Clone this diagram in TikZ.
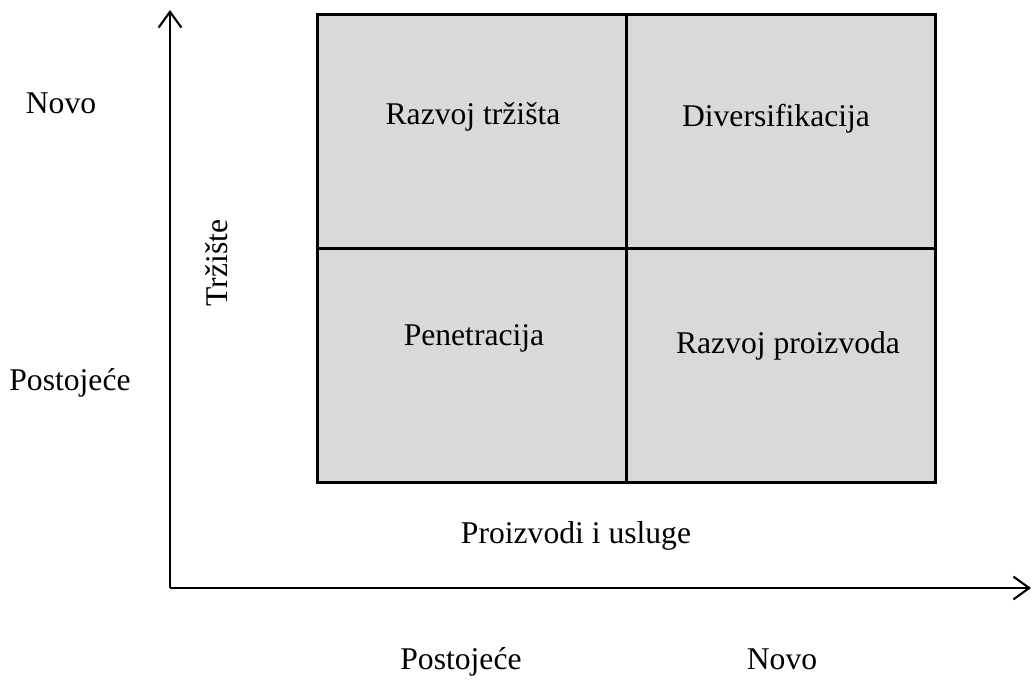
\documentclass[tikz,border=0pt]{standalone}
\usepackage{fontspec}
\setmainfont{Liberation Serif}
\usetikzlibrary{arrows.meta}

\begin{document}
\begin{tikzpicture}[x=0.02cm, y=-0.02cm,
    font=\fontsize{18}{22}\selectfont,
    quad/.style={draw, line width=1.2pt, fill=black!15, minimum width=6.18cm, minimum height=4.68cm, inner sep=0pt},
    lbl/.style={inner sep=0pt, anchor=base}]
                \useasboundingbox (0,0) rectangle (1032,681);
                % matrica
                \node[quad] (TL) at (472,131.5) {};
                \node[quad] (TR) at (781,131.5) {};
                \node[quad] (BL) at (472,365.5) {};
                \node[quad] (BR) at (781,365.5) {};
                \node[lbl] (rt) at (473,124) {Razvoj tržišta};
                \node[lbl] (dv) at (776,126) {Diversifikacija};
                \node[lbl] (pn) at (474,345) {Penetracija};
                \node[lbl] (rp) at (788,353) {Razvoj proizvoda};
                % osi
                \coordinate (O) at (170,588);
                \coordinate (ytop) at (170,10);
                \coordinate (xend) at (1031,588);
                \draw [line width=1.2pt, -{Straight Barb[length=9pt, width=13pt]}] (O) -- (ytop);
                \draw [line width=1.2pt, -{Straight Barb[length=9pt, width=13pt]}] (O) -- (xend);
                \node[lbl] (novoy) at (61,113) {Novo};
                \node[lbl] (posty) at (70,390) {Postojeće};
                \node[lbl, rotate=90] (trz) at (227,263) {Tržište};
                \node[lbl] (piu) at (576,543) {Proizvodi i usluge};
                \node[lbl] (postx) at (461,669) {Postojeće};
                \node[lbl] (novox) at (782,669) {Novo};
            \end{tikzpicture}
\end{document}
